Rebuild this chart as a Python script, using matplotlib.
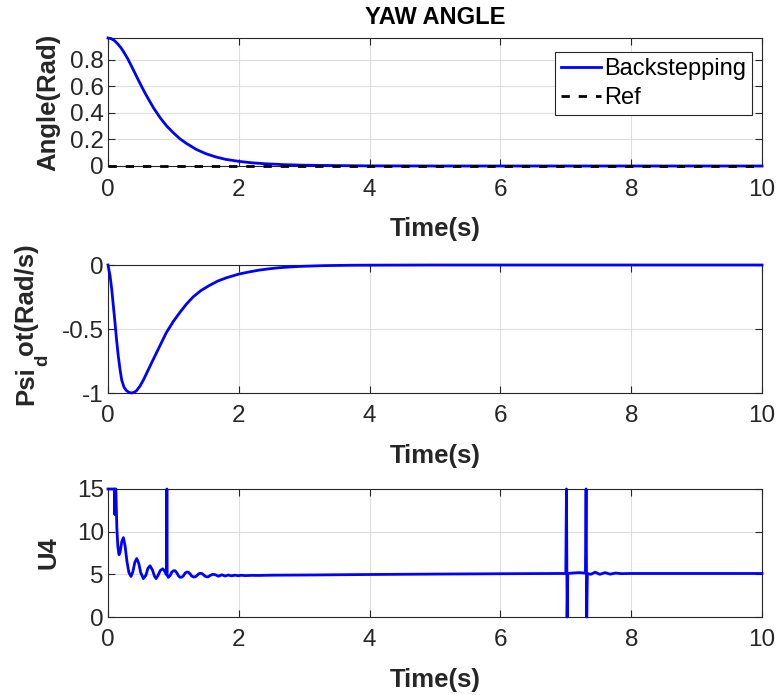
import numpy as np
import matplotlib
matplotlib.use("Agg")
import matplotlib.pyplot as plt
from matplotlib.transforms import IdentityTransform

# ---------------------------------------------------------------------------
# Data
# ---------------------------------------------------------------------------
t_ang = [0, 0.05, 0.1, 0.15, 0.2, 0.25, 0.3, 0.35, 0.4, 0.45, 0.5, 0.55,
         0.6, 0.7, 0.8, 0.9, 1.0, 1.1, 1.2, 1.35, 1.5, 1.65, 1.8, 2.0, 2.2,
         2.4, 2.7, 3.0, 3.5, 4.0, 5.0, 10.0]
angle = [0.965, 0.96, 0.945, 0.92, 0.89, 0.852, 0.81, 0.762, 0.712, 0.662,
         0.613, 0.565, 0.52, 0.435, 0.362, 0.30, 0.25, 0.205, 0.17, 0.125,
         0.092, 0.068, 0.05, 0.035, 0.024, 0.017, 0.01, 0.006, 0.003, 0.001,
         0.0, 0.0]
t_ref = [0, 10]
ref = [0, 0]

t_rate = [0, 0.03, 0.056, 0.08, 0.107, 0.13, 0.157, 0.185, 0.21, 0.245, 0.28,
          0.32, 0.36, 0.40, 0.44, 0.49, 0.54, 0.61, 0.69, 0.79, 0.89, 1.0,
          1.10, 1.2, 1.30, 1.42, 1.55, 1.68, 1.81, 2.0, 2.15, 2.31, 2.46,
          2.62, 2.92, 3.3, 3.7, 4.2, 5.0, 10.0]
rate = [0, -0.08, -0.185, -0.31, -0.45, -0.58, -0.71, -0.82, -0.90, -0.955,
        -0.98, -0.995, -1.0, -0.995, -0.98, -0.945, -0.90, -0.825, -0.74,
        -0.635, -0.53, -0.44, -0.37, -0.305, -0.25, -0.2, -0.16, -0.125,
        -0.10, -0.071, -0.055, -0.04, -0.03, -0.021, -0.011, -0.005, -0.002,
        -0.001, 0, 0]

t_u4 = [0, 0.10, 0.105, 0.11, 0.12, 0.135, 0.15, 0.168, 0.185, 0.21, 0.235,
        0.26, 0.29, 0.32, 0.352, 0.38, 0.41, 0.439, 0.47, 0.50, 0.541, 0.58,
        0.61, 0.643, 0.68, 0.71, 0.735, 0.76, 0.80, 0.837, 0.865, 0.888,
        0.895, 0.90, 0.905, 0.923, 0.95, 0.975, 1.0, 1.026, 1.05, 1.08, 1.10,
        1.128, 1.155, 1.18, 1.205, 1.23, 1.255, 1.28, 1.31, 1.332, 1.36,
        1.385, 1.41, 1.434, 1.46, 1.485, 1.51, 1.536, 1.56, 1.59, 1.61,
        1.638, 1.69, 1.74, 1.79, 1.84, 1.89, 1.94, 1.99, 2.04, 2.1, 2.2, 2.3,
        2.5, 3.0, 4.0, 5.0, 6.0, 6.9, 7.0, 7.01, 7.02, 7.03, 7.1, 7.2, 7.3,
        7.31, 7.32, 7.33, 7.38, 7.45, 7.52, 7.6, 7.68, 7.76, 7.85, 8.0, 9.0,
        10.0]
u4 = [15, 15, 12, 15, 15, 10.5, 8.3, 7.3, 7.6, 8.8, 9.3,
      8.4, 6.5, 5.2, 4.75, 5.3, 6.4, 6.85, 6.3, 5.2, 4.5, 4.9,
      5.7, 6.0, 5.5, 4.8, 4.5, 4.8, 5.45, 5.65, 5.4, 5.0,
      5.0, 15, 4.9, 4.65, 4.85, 5.25, 5.42, 5.42, 5.2, 4.8, 4.66,
      4.66, 4.85, 5.15, 5.27, 5.25, 5.05, 4.8, 4.68, 4.7, 4.85,
      5.05, 5.12, 5.1, 4.95, 4.78, 4.7, 4.72, 4.85, 4.98, 5.0,
      4.96, 4.78, 4.95, 4.8, 4.92, 4.82, 4.9, 4.84, 4.89, 4.85, 4.88, 4.87,
      4.9, 4.92, 4.98, 5.03, 5.07, 5.1, 5.1, 15, 0, 5.1, 5.15, 5.2, 5.15,
      15, 0, 5.1, 5.0, 5.25, 5.0, 5.2, 5.02, 5.15, 5.08, 5.1, 5.1,
      5.1]

# ---------------------------------------------------------------------------
# Style (MATLAB look)
# ---------------------------------------------------------------------------
plt.rcParams["font.family"] = ["Liberation Sans", "DejaVu Sans"]
AX_COL = "#262626"
FS = 17.5      # tick labels
FS_LAB = 18.5  # axis labels

fig = plt.figure(figsize=(7.8, 6.95), dpi=100)
left, width, height = 108 / 780, 654 / 780, 128 / 695
ax1 = fig.add_axes([left, 1 - 166 / 695, width, height])
ax2 = fig.add_axes([left, 1 - 393 / 695, width, height])
ax3 = fig.add_axes([left, 1 - 617 / 695, width, height])

blue = (0, 0, 1)
ax1.plot(t_ang, angle, color=blue, lw=2, label="Backstepping", clip_on=False, zorder=3)
ax1.plot(t_ref, ref, color="black", lw=2, dashes=(3, 3.2), label="Ref", clip_on=False, zorder=4)
ax2.plot(t_rate, rate, color=blue, lw=2, clip_on=False, zorder=3)
ax3.plot(t_u4, u4, color=blue, lw=2, clip_on=False, zorder=3)

ax1.set_ylim(0, max(angle))
ax1.set_yticks([0, 0.2, 0.4, 0.6, 0.8])
ax1.set_yticklabels(["0", "0.2", "0.4", "0.6", "0.8"])
ax2.set_ylim(-1, 0)
ax2.set_yticks([-1, -0.5, 0])
ax2.set_yticklabels(["-1", "-0.5", "0"])
ax3.set_ylim(0, 15)
ax3.set_yticks([0, 5, 10, 15])

for ax in (ax1, ax2, ax3):
    ax.set_xlim(0, 10)
    ax.set_xticks([0, 2, 4, 6, 8, 10])
    ax.grid(True, color="#dedede", lw=0.8)
    ax.set_axisbelow(True)
    ax.tick_params(direction="in", top=True, right=True, length=5,
                   width=0.8, color=AX_COL, labelsize=FS, labelcolor=AX_COL)
    ax.tick_params(axis="x", pad=9)
    ax.tick_params(axis="y", pad=3)
    for sp in ax.spines.values():
        sp.set_color(AX_COL)
        sp.set_linewidth(0.8)
    ax.set_xlabel("Time(s)", fontsize=FS_LAB, fontweight="bold", color=AX_COL, labelpad=12)

ax1.set_ylabel("Angle(Rad)", fontsize=FS_LAB, fontweight="bold", color=AX_COL, labelpad=7)
ax3.set_ylabel("U4", fontsize=FS_LAB, fontweight="bold", color=AX_COL, labelpad=12)
ax1.set_title("YAW ANGLE", fontsize=17, fontweight="bold", color="black", pad=10)

# Psi_dot label, TeX-style: "Psi" + low subscript "d" + "ot(Rad/s)"
renderer = fig.canvas.get_renderer()
parts = [("Psi", FS_LAB, 0), ("d", 13.5, 14), ("ot(Rad/s)", FS_LAB, 0)]
texts = []
for s, size, drop in parts:
    t = fig.text(0, 0, s, fontsize=size, fontweight="bold", color=AX_COL,
                 rotation=90, rotation_mode="anchor", ha="left", va="baseline",
                 transform=IdentityTransform())
    texts.append(t)
lengths = [t.get_window_extent(renderer).height for t in texts]
y = (695 - 324) - sum(lengths) / 2
for t, L, (s, size, drop) in zip(texts, lengths, parts):
    t.set_position((33 + drop, y))
    y += L

leg = ax1.legend(loc="upper right", bbox_to_anchor=(0.985, 0.89), fontsize=17,
                 frameon=True, fancybox=False, edgecolor=AX_COL, framealpha=1,
                 borderpad=0.25, handlelength=1.7, handletextpad=0.15,
                 labelspacing=0.3, borderaxespad=0)
leg.get_frame().set_linewidth(0.8)

fig.savefig("out.png", dpi=100)
